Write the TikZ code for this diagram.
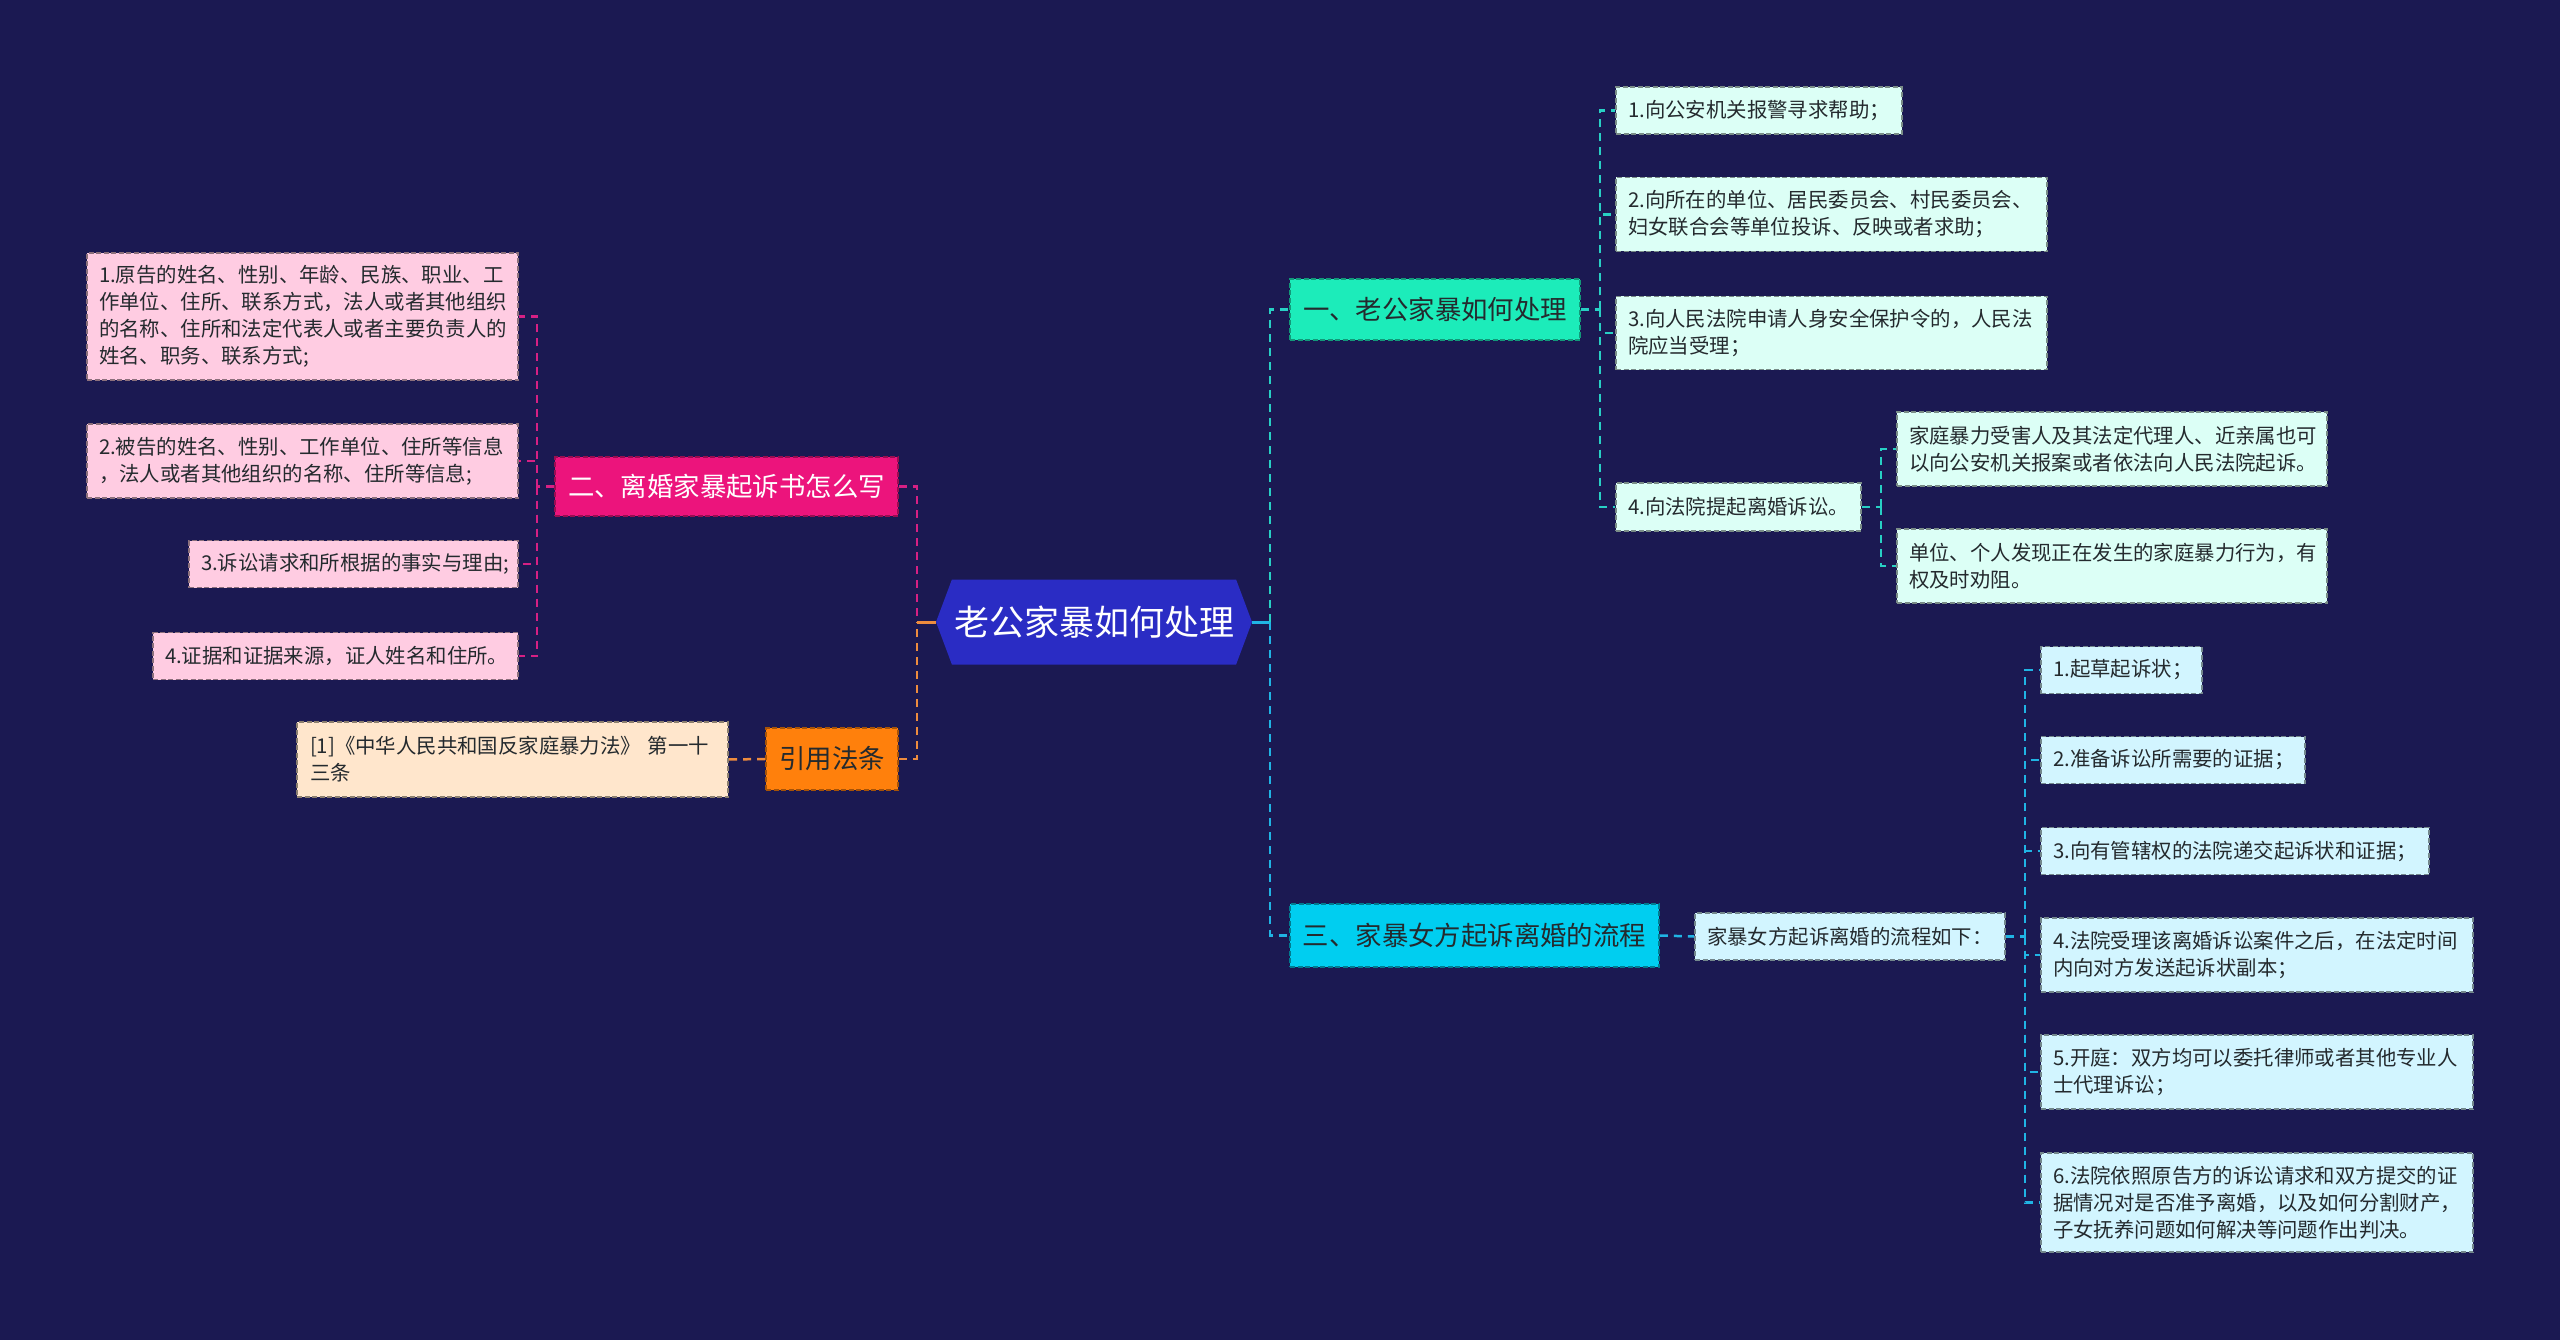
\documentclass[tikz,border=0pt]{standalone}
\usepackage{fontspec}
\newfontfamily\cjk{Noto Sans CJK SC}
\usetikzlibrary{shapes.symbols}
\definecolor{bgc}{RGB}{27,25,82}
\definecolor{hexc}{RGB}{42,44,196}
\definecolor{magc}{RGB}{236,20,124}
\definecolor{orgc}{RGB}{255,128,12}
\definecolor{pinkleaf}{RGB}{255,204,226}
\definecolor{peach}{RGB}{255,230,204}
\definecolor{tealc}{RGB}{28,236,186}
\definecolor{cyanc}{RGB}{0,206,240}
\definecolor{mintleaf}{RGB}{220,255,246}
\definecolor{bluleaf}{RGB}{210,245,255}
\definecolor{lmag}{RGB}{214,32,132}
\definecolor{lorg}{RGB}{238,140,62}
\definecolor{lteal}{RGB}{40,208,196}
\definecolor{lblue}{RGB}{32,180,228}
\definecolor{darktxt}{RGB}{36,42,46}
\tikzset{
  leafbox/.style={rectangle, inner xsep=12pt, inner ysep=0pt, align=left,
    font=\cjk\fontsize{20.4pt}{27pt}\selectfont, text=darktxt,
    dash pattern=on 5pt off 2.5pt, line width=1.6pt},
  pinkbox/.style={leafbox, fill=pinkleaf, draw=pinkleaf!55!black},
  peachbox/.style={leafbox, fill=peach, draw=peach!55!black},
  mintbox/.style={leafbox, fill=mintleaf, draw=mintleaf!55!black},
  blubox/.style={leafbox, fill=bluleaf, draw=bluleaf!55!black},
  branch/.style={rectangle, inner sep=0pt, align=center,
    font=\cjk\fontsize{26.4pt}{32pt}\selectfont,
    dash pattern=on 5pt off 2.5pt, line width=1.6pt},
  conn/.style={line width=2.5pt, dash pattern=on 8pt off 6pt},
  stub/.style={line width=3pt}
}
\begin{document}
\begin{tikzpicture}[x=1pt,y=-1pt]
\fill[bgc] (0,0) rectangle (2560,1340);
\useasboundingbox (0,0) rectangle (2560,1340);

% center
\node[signal, signal to=west and east, signal pointer angle=139, fill=hexc,
  minimum width=316pt, minimum height=85pt, inner sep=0pt, text=white,
  font=\cjk\fontsize{35pt}{40pt}\selectfont] (c) at (1094,622) {老公家暴如何处理};

% left branches
\node[branch, fill=magc, draw=magc!65!black, text=white, minimum width=343pt, minimum height=59pt] (b2) at (726.5,486.5) {二、离婚家暴起诉书怎么写};
\node[branch, fill=orgc, draw=orgc!65!black, text=darktxt, minimum width=132pt, minimum height=62pt] (b3) at (832,759) {引用法条};

\node[pinkbox, text width=407pt, minimum height=127pt] (p1) at (302.5,316.5) {1.原告的姓名、性别、年龄、民族、职业、工\\作单位、住所、联系方式，法人或者其他组织\\的名称、住所和法定代表人或者主要负责人的\\姓名、职务、联系方式;};
\node[pinkbox, text width=407pt, minimum height=74pt] (p2) at (302.5,461) {2.被告的姓名、性别、工作单位、住所等信息\\，法人或者其他组织的名称、住所等信息;};
\node[pinkbox, text width=305pt, minimum height=47pt] (p3) at (353.5,564) {3.诉讼请求和所根据的事实与理由;};
\node[pinkbox, text width=341pt, minimum height=47pt] (p4) at (335.5,656) {4.证据和证据来源，证人姓名和住所。};
\node[peachbox, text width=405pt, inner xsep=13pt, minimum height=75pt] (cite) at (512.5,759.5) {[1]《中华人民共和国反家庭暴力法》~第一十\\三条};

% right branches
\node[branch, fill=tealc, draw=tealc!65!black, text=darktxt, minimum width=290pt, minimum height=61pt] (r1) at (1435,309.5) {一、老公家暴如何处理};
\node[branch, fill=cyanc, draw=cyanc!60!black, text=darktxt, minimum width=369pt, minimum height=63pt] (r3) at (1474.5,935.5) {三、家暴女方起诉离婚的流程};

\node[mintbox, text width=262pt, minimum height=47pt] (a1) at (1759,110.5) {1.向公安机关报警寻求帮助；};
\node[mintbox, text width=407pt, minimum height=74pt] (a2) at (1831.5,214.5) {2.向所在的单位、居民委员会、村民委员会、\\妇女联合会等单位投诉、反映或者求助；};
\node[mintbox, text width=407pt, minimum height=73pt] (a3) at (1831.5,333) {3.向人民法院申请人身安全保护令的，人民法\\院应当受理；};
\node[mintbox, text width=221pt, minimum height=48pt] (a4) at (1738.5,507) {4.向法院提起离婚诉讼。};
\node[mintbox, text width=406pt, minimum height=74pt] (d1) at (2112,449) {家庭暴力受害人及其法定代理人、近亲属也可\\以向公安机关报案或者依法向人民法院起诉。};
\node[mintbox, text width=406pt, minimum height=74pt] (d2) at (2112,566) {单位、个人发现正在发生的家庭暴力行为，有\\权及时劝阻。};

\node[blubox, text width=286pt, minimum height=47pt] (s) at (1850,936.5) {家暴女方起诉离婚的流程如下：};
\node[blubox, text width=137pt, minimum height=47pt] (c1) at (2121.5,670) {1.起草起诉状；};
\node[blubox, text width=240pt, minimum height=47pt] (c2) at (2173,760) {2.准备诉讼所需要的证据；};
\node[blubox, text width=364pt, minimum height=47pt] (c3) at (2235,851) {3.向有管辖权的法院递交起诉状和证据；};
\node[blubox, text width=408pt, minimum height=74pt] (c4) at (2257,955) {4.法院受理该离婚诉讼案件之后，在法定时间\\内向对方发送起诉状副本；};
\node[blubox, text width=408pt, minimum height=74pt] (c5) at (2257,1072) {5.开庭：双方均可以委托律师或者其他专业人\\士代理诉讼；};
\node[blubox, text width=408pt, minimum height=99pt] (c6) at (2257,1202.5) {6.法院依照原告方的诉讼请求和双方提交的证\\据情况对是否准予离婚，以及如何分割财产，\\子女抚养问题如何解决等问题作出判决。};

% junctions
\coordinate (jl) at (917,622);
\coordinate (jl2) at (537,486.5);
\coordinate (jr) at (1270,622);
\coordinate (j1) at (1600,309.5);
\coordinate (j4) at (1881,507);
\coordinate (j3) at (2025,936.5);

% left connectors
\draw[stub,lorg] (c.west) -- (jl);
\draw[conn,lmag] (b2.east) -| (jl);
\draw[conn,lorg] (b3.east) -| (jl);
\draw[conn,lmag] (b2.west) -- (jl2);
\foreach \n in {p1,p2,p3,p4} \draw[conn,lmag] (jl2) |- (\n.east);
\draw[conn,lorg] (b3.west) -- (cite.east);

% right connectors
\draw[stub,lblue] (c.east) -- (jr);
\draw[conn,lteal] (jr) |- (r1.west);
\draw[conn,lblue] (jr) |- (r3.west);
\draw[conn,lteal] (r1.east) -- (j1);
\foreach \n in {a1,a2,a3,a4} \draw[conn,lteal] (j1) |- (\n.west);
\draw[conn,lteal] (a4.east) -- (j4);
\foreach \n in {d1,d2} \draw[conn,lteal] (j4) |- (\n.west);
\draw[conn,lblue] (r3.east) -- (s.west);
\draw[conn,lblue] (s.east) -- (j3);
\foreach \n in {c1,c2,c3,c4,c5,c6} \draw[conn,lblue] (j3) |- (\n.west);
\end{tikzpicture}
\end{document}
